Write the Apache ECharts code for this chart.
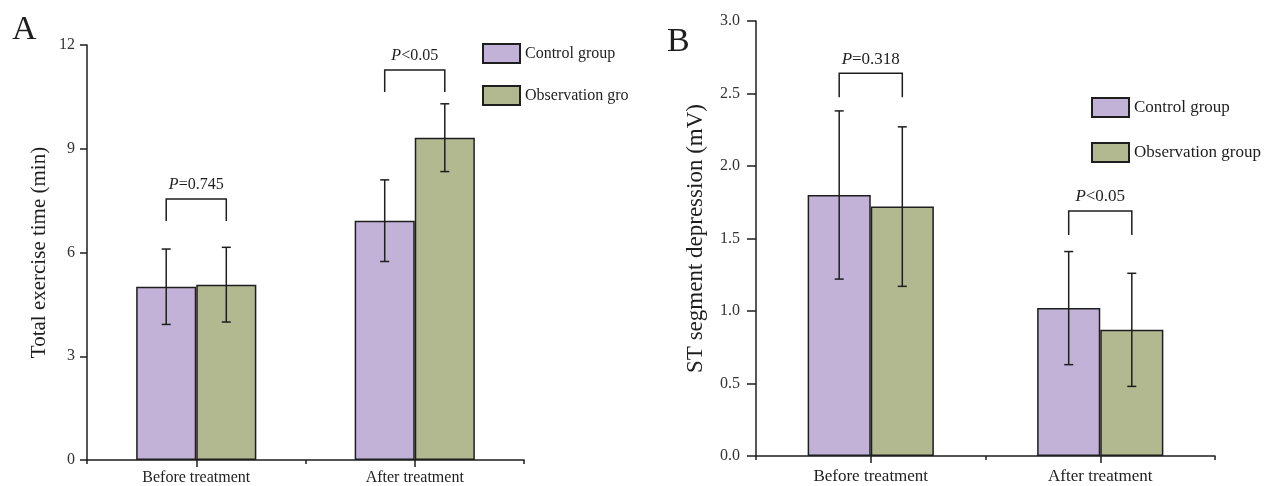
<!DOCTYPE html>
<html><head><meta charset="utf-8">
<script src="https://cdn.jsdelivr.net/npm/echarts@6/dist/echarts.min.js"></script>
<style>html,body{margin:0;padding:0;background:#fff}#c{width:1264px;height:486px}</style>
</head><body><div id="c"></div>
<script>
// ---- data ----
const categories = ['Before treatment', 'After treatment'];
const legendNamesA = ['Control group', 'Observation gro'];
const legendNamesB = ['Control group', 'Observation group'];
const exerciseControlMean = [5.01, 6.92];
const exerciseControlSD = [1.09, 1.18];
const exerciseObsMean = [5.07, 9.32];
const exerciseObsSD = [1.08, 0.98];
const stControlMean = [1.80, 1.02];
const stControlSD = [0.58, 0.39];
const stObsMean = [1.72, 0.87];
const stObsSD = [0.55, 0.39];
const pTextA = ['=0.745', '<0.05'];
const pLevelA = [7.55, 11.28];
const pTextB = ['=0.318', '<0.05'];
const pLevelB = [2.64, 1.69];

// ---- style ----
const FONT = 'Liberation Serif';
const INK = '#1e1e1e';
const PURPLE = '#c2b2d8';
const GREEN = '#b2b890';
const GAP = 0.45;

function errData(cm, cs, om, os) {
  const d = [];
  categories.forEach((c, i) => { d.push([i, cm[i], cs[i], 0]); d.push([i, om[i], os[i], 1]); });
  return d;
}
function errRender(params, api) {
  const cat = api.value(0), mean = api.value(1), sd = api.value(2), g = api.value(3);
  const c = api.coord([cat, mean]);
  const band = api.size([1, 0])[0];
  const bw = band * (1 - GAP) / 2;
  const x = c[0] + (g === 0 ? -bw / 2 : bw / 2);
  const yt = api.coord([cat, mean + sd])[1];
  const yb = api.coord([cat, mean - sd])[1];
  const cap = 4.5;
  const st = { stroke: INK, lineWidth: 1.5 };
  return { type: 'group', children: [
    { type: 'line', shape: { x1: x, y1: yt, x2: x, y2: yb }, style: st },
    { type: 'line', shape: { x1: x - cap, y1: yt, x2: x + cap, y2: yt }, style: st },
    { type: 'line', shape: { x1: x - cap, y1: yb, x2: x + cap, y2: yb }, style: st }
  ]};
}
function bracketRender(texts, leg, fs) {
  return function (params, api) {
    const i = api.value(0), lvl = api.value(1);
    const c = api.coord([i, lvl]);
    const band = api.size([1, 0])[0];
    const bw = band * (1 - GAP) / 2;
    const xl = c[0] - bw / 2, xr = c[0] + bw / 2, y = c[1];
    return { type: 'group', children: [
      { type: 'polyline', shape: { points: [[xl, y + leg], [xl, y], [xr, y], [xr, y + leg]] },
        style: { stroke: INK, lineWidth: 1.5, fill: null } },
      { type: 'text', x: c[0], y: y - 14, style: {
        text: '{i|P}{n|' + texts[i] + '}', align: 'center', verticalAlign: 'middle',
        rich: { i: { fontFamily: FONT, fontSize: fs, fontStyle: 'italic', fill: INK },
                n: { fontFamily: FONT, fontSize: fs, fill: INK } } } }
    ]};
  };
}

const axisLineStyle = { color: INK, width: 1.5 };
function yAxis(grid, max, interval, digits, name, nameSize, gap, tickLen, margin) {
  return {
    type: 'value', gridIndex: grid, min: 0, max: max, interval: interval,
    name: name, nameLocation: 'middle', nameGap: gap,
    nameTextStyle: { fontFamily: FONT, fontSize: nameSize, color: INK },
    axisLine: { show: true, lineStyle: axisLineStyle },
    axisTick: { show: true, length: tickLen, lineStyle: axisLineStyle },
    axisLabel: { fontFamily: FONT, fontSize: 16, color: '#333', margin: margin,
      formatter: v => v.toFixed(digits) },
    splitLine: { show: false }
  };
}
function xAxes(grid, margin, fs) {
  return [{
    type: 'category', gridIndex: grid, data: categories,
    axisLine: { show: true, lineStyle: axisLineStyle },
    axisTick: { show: true, length: 4, lineStyle: axisLineStyle },
    axisLabel: { fontFamily: FONT, fontSize: fs, color: INK, margin: margin }
  }, {
    type: 'category', gridIndex: grid, data: categories, position: 'bottom',
    axisLine: { show: false },
    axisTick: { show: true, length: 7, alignWithLabel: true, lineStyle: axisLineStyle },
    axisLabel: { show: false }
  }];
}
function bar(name, data, color, xi, yi) {
  return { type: 'bar', name: name, data: data, xAxisIndex: xi, yAxisIndex: yi,
    barGap: 0, barCategoryGap: (GAP * 100) + '%',
    itemStyle: { color: color, borderColor: INK, borderWidth: 1.5 } };
}
function legend(names, left, top, gap, fs) {
  return { orient: 'vertical', left: left, top: top, data: names, icon: 'rect',
    itemWidth: 37, itemHeight: 19, itemGap: gap, padding: 0, selectedMode: false,
    textStyle: { fontFamily: FONT, fontSize: fs, color: INK } };
}

const chart = echarts.init(document.getElementById('c'));
chart.setOption({
  animation: false,
  backgroundColor: '#fff',
  grid: [
    { left: 87, top: 45, width: 437, height: 415 },
    { left: 756, top: 21, width: 459, height: 435 }
  ],
  xAxis: [...xAxes(0, 10, 16), ...xAxes(1, 12, 17)],
  yAxis: [
    yAxis(0, 12, 3, 0, 'Total exercise time (min)', 21, 37, 7, 12),
    yAxis(1, 3, 0.5, 1, 'ST segment depression (mV)', 23, 49, 9, 16)
  ],
  legend: [legend(legendNamesA, 482, 43, 21, 16), legend(legendNamesB, 1091, 97, 24, 17)],
  graphic: [
    { type: 'text', left: 12, top: 13, style: { text: 'A', fontFamily: FONT, fontSize: 34, fill: INK } },
    { type: 'text', left: 667, top: 25, style: { text: 'B', fontFamily: FONT, fontSize: 34, fill: INK } }
  ],
  series: [
    bar(legendNamesA[0], exerciseControlMean, PURPLE, 0, 0),
    bar(legendNamesA[1], exerciseObsMean, GREEN, 0, 0),
    { type: 'custom', xAxisIndex: 0, yAxisIndex: 0, z: 5, renderItem: errRender,
      data: errData(exerciseControlMean, exerciseControlSD, exerciseObsMean, exerciseObsSD) },
    { type: 'custom', xAxisIndex: 0, yAxisIndex: 0, z: 5, renderItem: bracketRender(pTextA, 22, 16),
      data: categories.map((c, i) => [i, pLevelA[i]]) },
    bar(legendNamesB[0], stControlMean, PURPLE, 2, 1),
    bar(legendNamesB[1], stObsMean, GREEN, 2, 1),
    { type: 'custom', xAxisIndex: 2, yAxisIndex: 1, z: 5, renderItem: errRender,
      data: errData(stControlMean, stControlSD, stObsMean, stObsSD) },
    { type: 'custom', xAxisIndex: 2, yAxisIndex: 1, z: 5, renderItem: bracketRender(pTextB, 24, 17),
      data: categories.map((c, i) => [i, pLevelB[i]]) }
  ]
});
</script></body></html>
